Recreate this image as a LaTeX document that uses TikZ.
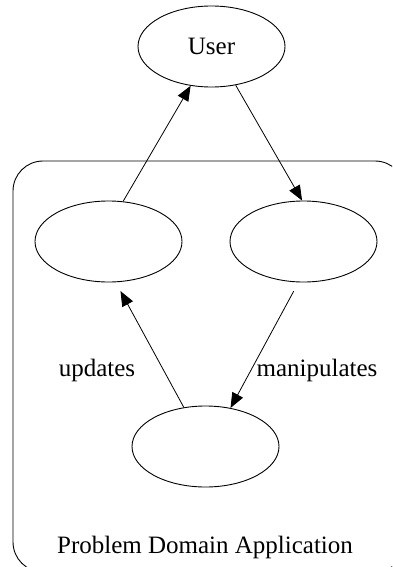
\documentclass[tikz,border=0pt]{standalone}
\usepackage{fontspec}
\setmainfont{Liberation Serif}
\usetikzlibrary{shapes.geometric,arrows.meta}
\begin{document}
\begin{tikzpicture}[x=1pt,y=-1pt,
  every node/.style={font=\fontsize{25}{29}\selectfont},
  blob/.style={draw,ellipse,line width=0.9pt,minimum width=147pt,minimum height=81pt,inner sep=0pt},
  link/.style={line width=0.8pt,-{Triangle[length=15pt,width=12pt]}},
  lbl/.style={inner sep=0pt}]
  \useasboundingbox (0,0) rectangle (392,567);
  \clip (0,0) rectangle (392,567);
  % application boundary
  \draw[line width=0.9pt,rounded corners=30pt] (13,161) rectangle (405,572);
  % nodes
  \node[blob] (u) at (211.5,46.5) {User};
  \node[blob] (l) at (108.5,241.5) {};
  \node[blob] (r) at (303.5,241.5) {};
  \node[blob] (b) at (205.5,446.5) {};
  % labels
  \node[lbl] (tu) at (97,370) {updates};
  \node[lbl] (tm) at (317,370) {manipulates};
  \node[lbl] (tp) at (205,547) {Problem Domain Application};
  % connectors
  \draw[link] (l.70) -- (u.242);
  \draw[link] (u.302) -- (r.92);
  \draw[link,shorten <=10pt] (r.263) -- (b.57);
  \draw[link,shorten >=10pt] (b.119) -- (l.280);
\end{tikzpicture}
\end{document}
